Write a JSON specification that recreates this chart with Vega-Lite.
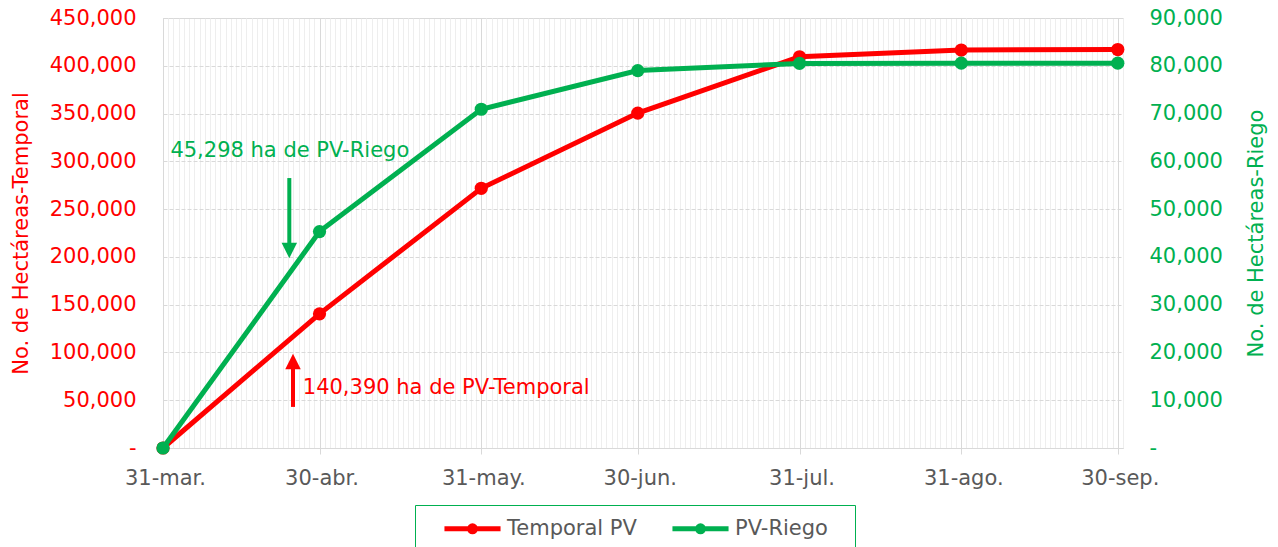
{
  "$schema": "https://vega.github.io/schema/vega-lite/v6.json",
  "width": 960,
  "height": 430,
  "autosize": {"type": "none"},
  "padding": {"left": 163, "top": 18, "right": 155, "bottom": 99},
  "background": "white",
  "config": {
    "font": "DejaVu Sans",
    "view": {"stroke": "#d9d9d9"},
    "axis": {"titleFontWeight": "normal"}
  },
  "datasets": {
    "series": [
      {"fecha": "2023-03-31T00:00:00", "serie": "Temporal PV", "valor": 0},
      {"fecha": "2023-04-30T00:00:00", "serie": "Temporal PV", "valor": 140390},
      {"fecha": "2023-05-31T00:00:00", "serie": "Temporal PV", "valor": 271800},
      {"fecha": "2023-06-30T00:00:00", "serie": "Temporal PV", "valor": 350500},
      {"fecha": "2023-07-31T00:00:00", "serie": "Temporal PV", "valor": 409400},
      {"fecha": "2023-08-31T00:00:00", "serie": "Temporal PV", "valor": 416500},
      {"fecha": "2023-09-30T00:00:00", "serie": "Temporal PV", "valor": 417000},
      {"fecha": "2023-03-31T00:00:00", "serie": "PV-Riego", "valor": 0},
      {"fecha": "2023-04-30T00:00:00", "serie": "PV-Riego", "valor": 45298},
      {"fecha": "2023-05-31T00:00:00", "serie": "PV-Riego", "valor": 70900},
      {"fecha": "2023-06-30T00:00:00", "serie": "PV-Riego", "valor": 79000},
      {"fecha": "2023-07-31T00:00:00", "serie": "PV-Riego", "valor": 80500},
      {"fecha": "2023-08-31T00:00:00", "serie": "PV-Riego", "valor": 80550},
      {"fecha": "2023-09-30T00:00:00", "serie": "PV-Riego", "valor": 80550}
    ],
    "flechas": [
      {"fecha": "2023-04-24T05:00:00", "valor": 282500, "valor2": 207000, "tipo": "riego"},
      {"fecha": "2023-04-24T22:00:00", "valor": 43000, "valor2": 90500, "tipo": "temporal"}
    ],
    "puntas": [
      {"fecha": "2023-04-24T05:00:00", "valor": 206700, "tipo": "riego"},
      {"fecha": "2023-04-24T22:00:00", "valor": 90500, "tipo": "temporal"}
    ],
    "textos": [
      {"fecha": "2023-04-01T10:00:00", "valor": 304500, "texto": "45,298 ha de PV-Riego", "tipo": "riego"},
      {"fecha": "2023-04-26T19:00:00", "valor": 56500, "texto": "140,390 ha de PV-Temporal", "tipo": "temporal"}
    ]
  },
  "encoding": {
    "x": {
      "field": "fecha",
      "type": "temporal",
      "scale": {"domain": [{"year": 2023, "month": 3, "date": 31}, {"year": 2023, "month": 10, "date": 1}]},
      "axis": {
        "title": null,
        "tickCount": {"interval": "day", "step": 1},
        "labelExpr": "date(time(datum.value) + 86400000) == 1 ? timeFormat(datum.value, '%d') + '-' + ['ene','feb','mar','abr','may','jun','jul','ago','sep','oct','nov','dic'][month(datum.value)] + '.' : ''",
        "labelOverlap": false,
        "labelFlush": false,
        "labelBound": false,
        "labelFontSize": 21,
        "labelColor": "#595959",
        "labelBaseline": "alphabetic",
        "labelPadding": 30,
        "labelOffset": 2,
        "ticks": true,
        "tickSize": 6,
        "tickColor": "#d9d9d9",
        "tickOpacity": {"condition": {"test": "date(time(datum.value) + 86400000) == 1", "value": 1}, "value": 0},
        "domainColor": "#d9d9d9",
        "grid": true,
        "gridColor": {"condition": {"test": "date(time(datum.value) + 86400000) == 1", "value": "#d9d9d9"}, "value": "#eeeeee"}
      }
    }
  },
  "layer": [
    {
      "encoding": {
        "y": {
          "field": "valor",
          "type": "quantitative",
          "scale": {"domain": [0, 450000]},
          "axis": {
            "orient": "left",
            "title": "No. de Hectáreas-Temporal",
            "titleColor": "#ff0000",
            "titleFontSize": 21,
            "titleAngle": 270,
            "titleBaseline": "alphabetic",
            "titleAlign": "center",
            "titleX": -136,
            "titleY": 215,
            "values": [0, 50000, 100000, 150000, 200000, 250000, 300000, 350000, 400000, 450000],
            "labelExpr": "datum.value == 0 ? '-\u00a0\u00a0' : format(datum.value, ',')",
            "labelColor": "#ff0000",
            "labelFontSize": 21,
            "labelPadding": 27,
            "ticks": false,
            "tickSize": 0,
            "domain": false,
            "grid": true,
            "gridColor": "#d9d9d9",
            "gridDash": [4, 2]
          }
        }
      },
      "layer": [
        {
          "data": {"name": "series"},
          "transform": [{"filter": "datum.serie == 'Temporal PV'"}],
          "mark": {"type": "line", "strokeWidth": 5, "point": {"filled": true, "size": 175, "opacity": 1}},
          "encoding": {
            "color": {
              "field": "serie",
              "type": "nominal",
              "scale": {"domain": ["Temporal PV", "PV-Riego"], "range": ["#ff0000", "#00b050"]},
              "legend": {
                "orient": "none",
                "legendX": 252,
                "legendY": 487,
                "direction": "horizontal",
                "title": "M",
                "titleColor": "transparent",
                "titleOrient": "left",
                "titlePadding": 13,
                "titleFontSize": 21,
                "padding": 10,
                "strokeColor": "#00b050",
                "fillColor": "white",
                "symbolType": "M-2.55,0L2.55,0M0.27,0A0.27,0.27 0 1 1 -0.27,0A0.27,0.27 0 1 1 0.27,0",
                "symbolSize": 484,
                "symbolStrokeWidth": 5,
                "labelOffset": 21,
                "columnPadding": 25,
                "labelFontSize": 21,
                "labelColor": "#595959",
                "encode": {"symbols": {"update": {
                  "fill": {"scale": "color", "field": "value"},
                  "stroke": {"scale": "color", "field": "value"},
                  "shape": [
                    {"test": "datum.value == 'PV-Riego'", "value": "M-2.55,0L2.55,0M0.27,0A0.27,0.27 0 1 1 -0.27,0A0.27,0.27 0 1 1 0.27,0M12.2,0"},
                    {"value": "M-2.55,0L2.55,0M0.27,0A0.27,0.27 0 1 1 -0.27,0A0.27,0.27 0 1 1 0.27,0"}
                  ]
                }}}
              }
            }
          }
        },
        {
          "data": {"name": "flechas"},
          "mark": {"type": "rule", "strokeWidth": 4},
          "encoding": {
            "y2": {"field": "valor2"},
            "color": {"condition": {"test": "datum.tipo == 'riego'", "value": "#00b050"}, "value": "#ff0000"}
          }
        },
        {
          "data": {"name": "puntas"},
          "mark": {"type": "point", "filled": true, "opacity": 1, "size": 240},
          "encoding": {
            "shape": {"condition": {"test": "datum.tipo == 'riego'", "value": "M-1,-1L1,-1L0,1Z"}, "value": "M-1,1L1,1L0,-1Z"},
            "color": {"condition": {"test": "datum.tipo == 'riego'", "value": "#00b050"}, "value": "#ff0000"}
          }
        },
        {
          "data": {"name": "textos"},
          "mark": {"type": "text", "align": "left", "baseline": "alphabetic", "fontSize": 21},
          "encoding": {
            "text": {"field": "texto"},
            "color": {"condition": {"test": "datum.tipo == 'riego'", "value": "#00b050"}, "value": "#ff0000"}
          }
        }
      ]
    },
    {
      "data": {"name": "series"},
      "transform": [{"filter": "datum.serie == 'PV-Riego'"}],
      "mark": {"type": "line", "strokeWidth": 5, "point": {"filled": true, "size": 175, "opacity": 1}},
      "encoding": {
        "y": {
          "field": "valor",
          "type": "quantitative",
          "scale": {"domain": [0, 90000]},
          "axis": {
            "orient": "right",
            "title": "No. de Hectáreas-Riego",
            "titleColor": "#00b050",
            "titleFontSize": 21,
            "titleAngle": 270,
            "titleBaseline": "alphabetic",
            "titleAlign": "center",
            "titleX": 139,
            "titleY": 215,
            "values": [0, 10000, 20000, 30000, 40000, 50000, 60000, 70000, 80000, 90000],
            "labelExpr": "datum.value == 0 ? '-' : format(datum.value, ',')",
            "labelColor": "#00b050",
            "labelFontSize": 21,
            "labelPadding": 26,
            "ticks": false,
            "tickSize": 0,
            "domain": false,
            "grid": false
          }
        },
        "color": {
          "field": "serie",
          "type": "nominal",
          "scale": {"domain": ["Temporal PV", "PV-Riego"], "range": ["#ff0000", "#00b050"]},
          "legend": {
            "orient": "none",
            "legendX": 252,
            "legendY": 487,
            "direction": "horizontal",
            "title": "M",
            "titleColor": "transparent",
            "titleOrient": "left",
            "titlePadding": 13,
            "titleFontSize": 21,
            "padding": 10,
            "strokeColor": "#00b050",
            "fillColor": "white",
            "symbolType": "M-2.55,0L2.55,0M0.27,0A0.27,0.27 0 1 1 -0.27,0A0.27,0.27 0 1 1 0.27,0",
            "symbolSize": 484,
            "symbolStrokeWidth": 5,
            "labelOffset": 21,
            "columnPadding": 25,
            "labelFontSize": 21,
            "labelColor": "#595959",
            "encode": {"symbols": {"update": {
              "fill": {"scale": "color", "field": "value"},
              "stroke": {"scale": "color", "field": "value"},
              "shape": [
                {"test": "datum.value == 'PV-Riego'", "value": "M-2.55,0L2.55,0M0.27,0A0.27,0.27 0 1 1 -0.27,0A0.27,0.27 0 1 1 0.27,0M12.2,0"},
                {"value": "M-2.55,0L2.55,0M0.27,0A0.27,0.27 0 1 1 -0.27,0A0.27,0.27 0 1 1 0.27,0"}
              ]
            }}}
          }
        }
      }
    }
  ],
  "resolve": {"scale": {"y": "independent"}}
}
